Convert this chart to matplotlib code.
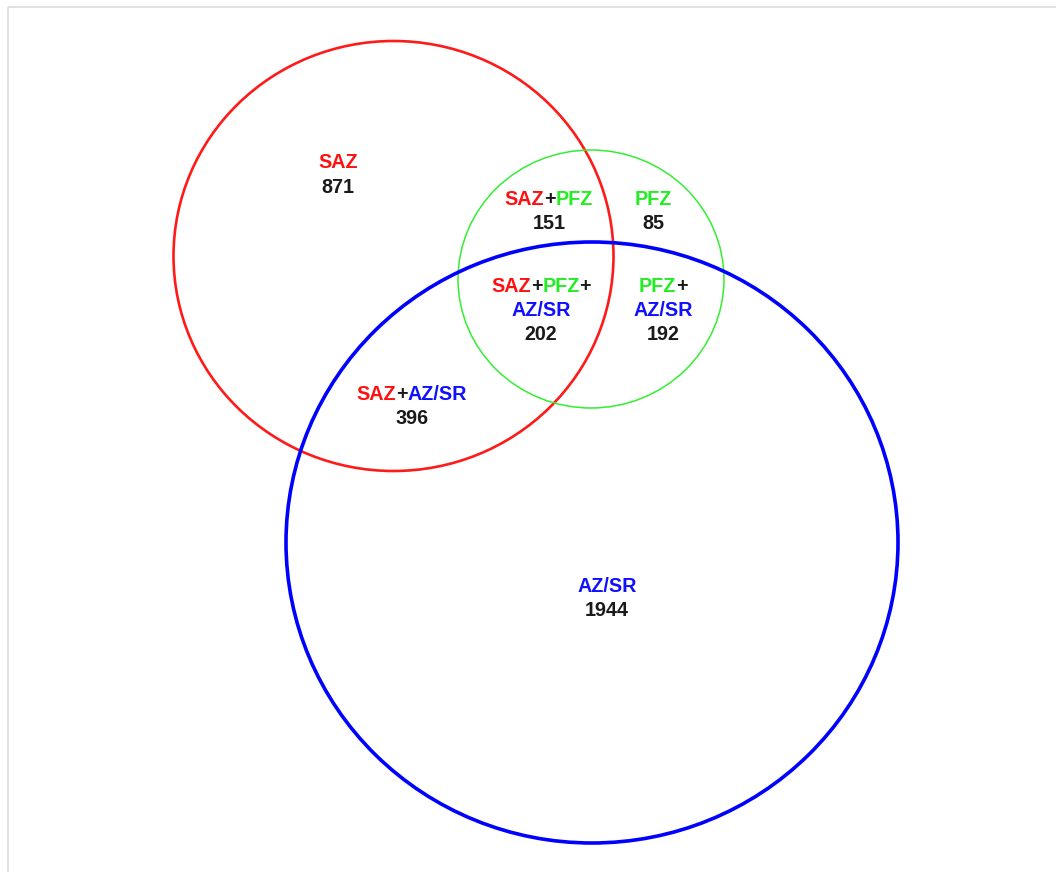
import matplotlib.pyplot as plt
from matplotlib.patches import Ellipse, Rectangle
from matplotlib.offsetbox import TextArea, HPacker, AnnotationBbox

RED = '#ff1010'
GREEN = '#22ee22'
BLUE = '#1010ff'
BLACK = '#1a1a1a'

# set names and region counts
sets = ['SAZ', 'PFZ', 'AZ/SR']
region_sets = [['SAZ'], ['SAZ', 'PFZ'], ['PFZ'], ['SAZ', 'PFZ', 'AZ/SR'],
               ['PFZ', 'AZ/SR'], ['SAZ', 'AZ/SR'], ['AZ/SR']]
region_counts = [871, 151, 85, 202, 192, 396, 1944]

set_colors = {'SAZ': RED, 'PFZ': GREEN, 'AZ/SR': BLUE}

# circle geometry in pixels (centre x, centre y, half width, half height, lw)
circles = {
    'SAZ': (393.5, 256, 220, 215, 1.9, '#ff1a1a'),
    'PFZ': (591, 279, 133, 129, 1.1, '#33ee33'),
    'AZ/SR': (592, 542.5, 306, 300.5, 2.6, '#0000ff'),
}

# label anchor (centre of first line) per region
label_pos = [(338, 163), (549, 199), (653, 199), (541, 286),
             (663, 286), (412, 394), (607, 586)]
line_step = 24.3
fs = 14.2

fig = plt.figure(figsize=(10.56, 8.72), dpi=100)
ax = fig.add_axes([0, 0, 1, 1])
ax.set_xlim(0, 1056)
ax.set_ylim(872, 0)
ax.axis('off')

ax.add_patch(Rectangle((7.5, 7.5), 1100, 900, fill=False, edgecolor='#dcdcdc', lw=1.2))

for name in sets:
    cx, cy, rx, ry, lw, col = circles[name]
    ax.add_patch(Ellipse((cx, cy), 2 * rx, 2 * ry, fill=False, edgecolor=col, lw=lw))


def text_line(parts, x, y):
    areas = [TextArea(t, textprops=dict(color=c, fontsize=fs, fontweight='bold',
                                        family='Liberation Sans')) for t, c in parts]
    box = HPacker(children=areas, align='baseline', pad=0, sep=0)
    ab = AnnotationBbox(box, (x, y), frameon=False, box_alignment=(0.5, 0.5), pad=0)
    ax.add_artist(ab)


for members, count, (x, y) in zip(region_sets, region_counts, label_pos):
    lines = []
    if len(members) == 1:
        lines.append([(members[0], set_colors[members[0]])])
    elif len(members) == 2 and members[0] == 'PFZ':
        lines.append([('PFZ', GREEN), ('+', BLACK)])
        lines.append([('AZ/SR', BLUE)])
    elif len(members) == 2:
        lines.append([(members[0], set_colors[members[0]]), ('+', BLACK),
                      (members[1], set_colors[members[1]])])
    else:
        lines.append([('SAZ', RED), ('+', BLACK), ('PFZ', GREEN), ('+', BLACK)])
        lines.append([('AZ/SR', BLUE)])
    lines.append([(str(count), BLACK)])
    for i, parts in enumerate(lines):
        text_line(parts, x, y + i * line_step)

plt.savefig('out.png', dpi=100)
